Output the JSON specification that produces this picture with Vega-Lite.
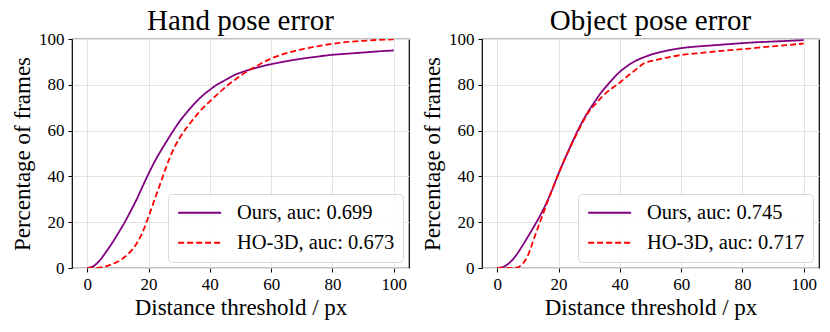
{
  "$schema": "https://vega.github.io/schema/vega-lite/v6.json",
  "background": "white",
  "padding": {"left": 10, "top": 6, "right": 5, "bottom": 5},
  "spacing": 10,
  "config": {
    "font": "Liberation Serif",
    "view": {"stroke": "#000", "strokeWidth": 1.2},
    "title": {"font": "Liberation Serif", "fontSize": 29, "fontWeight": "normal", "color": "#000", "offset": -6, "baseline": "alphabetic"},
    "axis": {
      "labelFont": "Liberation Serif", "labelFontSize": 17, "labelColor": "#000",
      "titleFont": "Liberation Serif", "titleFontSize": 23, "titleFontWeight": "normal", "titleColor": "#000",
      "tickColor": "#000", "tickSize": 4, "domain": false,
      "gridColor": "#e3e3e3", "gridWidth": 1, "labelPadding": 4, "titlePadding": 4
    },
    "legend": {
      "labelFont": "Liberation Serif", "labelFontSize": 20.5, "labelColor": "#000",
      "symbolType": "M-1,0H4", "symbolSize": 296, "symbolStrokeWidth": 1.8,
      "fillColor": "rgba(255,255,255,0.85)", "strokeColor": "#d8d8d8", "cornerRadius": 4,
      "padding": 8.5, "rowPadding": 9, "labelOffset": 40, "offset": 6, "labelLimit": 300
    }
  },
  "hconcat": [
    {
      "title": "Hand pose error",
      "width": 337, "height": 229,
      "data": {"values": [
        {"x":0,"pct":0,"series":"Ours, auc: 0.699"},{"x":2,"pct":0.8,"series":"Ours, auc: 0.699"},{"x":4,"pct":3.2,"series":"Ours, auc: 0.699"},{"x":6,"pct":6.8,"series":"Ours, auc: 0.699"},{"x":8,"pct":10.7,"series":"Ours, auc: 0.699"},{"x":10,"pct":15,"series":"Ours, auc: 0.699"},{"x":12,"pct":19.5,"series":"Ours, auc: 0.699"},{"x":14,"pct":24.5,"series":"Ours, auc: 0.699"},{"x":16,"pct":29.7,"series":"Ours, auc: 0.699"},{"x":18,"pct":35.5,"series":"Ours, auc: 0.699"},{"x":20,"pct":41.2,"series":"Ours, auc: 0.699"},{"x":22,"pct":46.5,"series":"Ours, auc: 0.699"},{"x":24,"pct":51.2,"series":"Ours, auc: 0.699"},{"x":26,"pct":55.6,"series":"Ours, auc: 0.699"},{"x":28,"pct":59.8,"series":"Ours, auc: 0.699"},{"x":30,"pct":63.8,"series":"Ours, auc: 0.699"},{"x":32,"pct":67.2,"series":"Ours, auc: 0.699"},{"x":34,"pct":70.3,"series":"Ours, auc: 0.699"},{"x":36,"pct":73.2,"series":"Ours, auc: 0.699"},{"x":38,"pct":75.7,"series":"Ours, auc: 0.699"},{"x":40,"pct":77.8,"series":"Ours, auc: 0.699"},{"x":42,"pct":79.8,"series":"Ours, auc: 0.699"},{"x":44,"pct":81.3,"series":"Ours, auc: 0.699"},{"x":46,"pct":82.8,"series":"Ours, auc: 0.699"},{"x":48,"pct":84.3,"series":"Ours, auc: 0.699"},{"x":50,"pct":85.3,"series":"Ours, auc: 0.699"},{"x":55,"pct":87.4,"series":"Ours, auc: 0.699"},{"x":60,"pct":89,"series":"Ours, auc: 0.699"},{"x":65,"pct":90.3,"series":"Ours, auc: 0.699"},{"x":70,"pct":91.4,"series":"Ours, auc: 0.699"},{"x":75,"pct":92.3,"series":"Ours, auc: 0.699"},{"x":80,"pct":93.1,"series":"Ours, auc: 0.699"},{"x":85,"pct":93.6,"series":"Ours, auc: 0.699"},{"x":90,"pct":94.1,"series":"Ours, auc: 0.699"},{"x":95,"pct":94.6,"series":"Ours, auc: 0.699"},{"x":100,"pct":95,"series":"Ours, auc: 0.699"},
        {"x":0,"pct":0,"series":"HO-3D, auc: 0.673"},{"x":2,"pct":0.05,"series":"HO-3D, auc: 0.673"},{"x":4,"pct":0.2,"series":"HO-3D, auc: 0.673"},{"x":6,"pct":0.7,"series":"HO-3D, auc: 0.673"},{"x":8,"pct":1.6,"series":"HO-3D, auc: 0.673"},{"x":10,"pct":2.8,"series":"HO-3D, auc: 0.673"},{"x":12,"pct":4.6,"series":"HO-3D, auc: 0.673"},{"x":14,"pct":7,"series":"HO-3D, auc: 0.673"},{"x":16,"pct":10.5,"series":"HO-3D, auc: 0.673"},{"x":18,"pct":15.5,"series":"HO-3D, auc: 0.673"},{"x":20,"pct":22.5,"series":"HO-3D, auc: 0.673"},{"x":22,"pct":30,"series":"HO-3D, auc: 0.673"},{"x":24,"pct":37.5,"series":"HO-3D, auc: 0.673"},{"x":26,"pct":45,"series":"HO-3D, auc: 0.673"},{"x":28,"pct":51.5,"series":"HO-3D, auc: 0.673"},{"x":30,"pct":56.5,"series":"HO-3D, auc: 0.673"},{"x":32,"pct":60.5,"series":"HO-3D, auc: 0.673"},{"x":34,"pct":64,"series":"HO-3D, auc: 0.673"},{"x":36,"pct":67.3,"series":"HO-3D, auc: 0.673"},{"x":38,"pct":70.2,"series":"HO-3D, auc: 0.673"},{"x":40,"pct":72.8,"series":"HO-3D, auc: 0.673"},{"x":42,"pct":75.3,"series":"HO-3D, auc: 0.673"},{"x":44,"pct":77.7,"series":"HO-3D, auc: 0.673"},{"x":46,"pct":80,"series":"HO-3D, auc: 0.673"},{"x":48,"pct":82,"series":"HO-3D, auc: 0.673"},{"x":50,"pct":84,"series":"HO-3D, auc: 0.673"},{"x":55,"pct":88,"series":"HO-3D, auc: 0.673"},{"x":60,"pct":91.5,"series":"HO-3D, auc: 0.673"},{"x":65,"pct":93.8,"series":"HO-3D, auc: 0.673"},{"x":70,"pct":95.5,"series":"HO-3D, auc: 0.673"},{"x":75,"pct":96.8,"series":"HO-3D, auc: 0.673"},{"x":80,"pct":97.9,"series":"HO-3D, auc: 0.673"},{"x":85,"pct":98.7,"series":"HO-3D, auc: 0.673"},{"x":90,"pct":99.2,"series":"HO-3D, auc: 0.673"},{"x":95,"pct":99.6,"series":"HO-3D, auc: 0.673"},{"x":100,"pct":99.8,"series":"HO-3D, auc: 0.673"}
      ]},
      "mark": {"type": "line", "strokeWidth": 1.8, "interpolate": "monotone", "clip": true},
      "encoding": {
        "x": {"field": "x", "type": "quantitative", "title": "Distance threshold / px",
              "scale": {"domain": [-5, 105], "nice": false, "zero": false},
              "axis": {"values": [0, 20, 40, 60, 80, 100]}},
        "y": {"field": "pct", "type": "quantitative", "title": "Percentage of frames",
              "scale": {"domain": [0, 100], "nice": false},
              "axis": {"values": [0, 20, 40, 60, 80, 100]}},
        "color": {"field": "series", "type": "nominal",
                  "scale": {"domain": ["Ours, auc: 0.699", "HO-3D, auc: 0.673"], "range": ["#800080", "#ff0000"]},
                  "legend": {"title": null, "orient": "bottom-right"}},
        "strokeDash": {"field": "series", "type": "nominal",
                  "scale": {"domain": ["Ours, auc: 0.699", "HO-3D, auc: 0.673"], "range": [[1, 0], [6, 3]]},
                  "legend": {"title": null, "orient": "bottom-right"}}
      }
    },
    {
      "title": "Object pose error",
      "width": 337, "height": 229,
      "data": {"values": [
        {"x":0,"pct":0,"series":"Ours, auc: 0.745"},{"x":2,"pct":0.5,"series":"Ours, auc: 0.745"},{"x":4,"pct":2.3,"series":"Ours, auc: 0.745"},{"x":6,"pct":5.3,"series":"Ours, auc: 0.745"},{"x":8,"pct":9.3,"series":"Ours, auc: 0.745"},{"x":10,"pct":13.7,"series":"Ours, auc: 0.745"},{"x":12,"pct":18.2,"series":"Ours, auc: 0.745"},{"x":14,"pct":23,"series":"Ours, auc: 0.745"},{"x":16,"pct":28.3,"series":"Ours, auc: 0.745"},{"x":18,"pct":34.5,"series":"Ours, auc: 0.745"},{"x":20,"pct":41.3,"series":"Ours, auc: 0.745"},{"x":22,"pct":47.5,"series":"Ours, auc: 0.745"},{"x":24,"pct":53.5,"series":"Ours, auc: 0.745"},{"x":26,"pct":59.3,"series":"Ours, auc: 0.745"},{"x":28,"pct":64.5,"series":"Ours, auc: 0.745"},{"x":30,"pct":69,"series":"Ours, auc: 0.745"},{"x":32,"pct":73,"series":"Ours, auc: 0.745"},{"x":34,"pct":76.8,"series":"Ours, auc: 0.745"},{"x":36,"pct":80,"series":"Ours, auc: 0.745"},{"x":38,"pct":83,"series":"Ours, auc: 0.745"},{"x":40,"pct":85.7,"series":"Ours, auc: 0.745"},{"x":42,"pct":87.8,"series":"Ours, auc: 0.745"},{"x":44,"pct":89.6,"series":"Ours, auc: 0.745"},{"x":46,"pct":91,"series":"Ours, auc: 0.745"},{"x":48,"pct":92.1,"series":"Ours, auc: 0.745"},{"x":50,"pct":93.1,"series":"Ours, auc: 0.745"},{"x":55,"pct":94.8,"series":"Ours, auc: 0.745"},{"x":60,"pct":96,"series":"Ours, auc: 0.745"},{"x":65,"pct":96.7,"series":"Ours, auc: 0.745"},{"x":70,"pct":97.2,"series":"Ours, auc: 0.745"},{"x":75,"pct":97.7,"series":"Ours, auc: 0.745"},{"x":80,"pct":98.2,"series":"Ours, auc: 0.745"},{"x":85,"pct":98.6,"series":"Ours, auc: 0.745"},{"x":90,"pct":98.9,"series":"Ours, auc: 0.745"},{"x":95,"pct":99.2,"series":"Ours, auc: 0.745"},{"x":100,"pct":99.5,"series":"Ours, auc: 0.745"},
        {"x":0,"pct":0,"series":"HO-3D, auc: 0.717"},{"x":2,"pct":0,"series":"HO-3D, auc: 0.717"},{"x":4,"pct":0,"series":"HO-3D, auc: 0.717"},{"x":6,"pct":0.1,"series":"HO-3D, auc: 0.717"},{"x":8,"pct":1.5,"series":"HO-3D, auc: 0.717"},{"x":10,"pct":5.5,"series":"HO-3D, auc: 0.717"},{"x":12,"pct":13,"series":"HO-3D, auc: 0.717"},{"x":14,"pct":20.3,"series":"HO-3D, auc: 0.717"},{"x":16,"pct":27.5,"series":"HO-3D, auc: 0.717"},{"x":18,"pct":34.5,"series":"HO-3D, auc: 0.717"},{"x":20,"pct":41.2,"series":"HO-3D, auc: 0.717"},{"x":22,"pct":47.5,"series":"HO-3D, auc: 0.717"},{"x":24,"pct":53.3,"series":"HO-3D, auc: 0.717"},{"x":26,"pct":58.8,"series":"HO-3D, auc: 0.717"},{"x":28,"pct":64,"series":"HO-3D, auc: 0.717"},{"x":30,"pct":68.5,"series":"HO-3D, auc: 0.717"},{"x":32,"pct":71.5,"series":"HO-3D, auc: 0.717"},{"x":34,"pct":74.5,"series":"HO-3D, auc: 0.717"},{"x":36,"pct":77,"series":"HO-3D, auc: 0.717"},{"x":38,"pct":79,"series":"HO-3D, auc: 0.717"},{"x":40,"pct":81,"series":"HO-3D, auc: 0.717"},{"x":42,"pct":83.3,"series":"HO-3D, auc: 0.717"},{"x":44,"pct":85.3,"series":"HO-3D, auc: 0.717"},{"x":46,"pct":87.5,"series":"HO-3D, auc: 0.717"},{"x":48,"pct":89.5,"series":"HO-3D, auc: 0.717"},{"x":50,"pct":90.3,"series":"HO-3D, auc: 0.717"},{"x":55,"pct":91.8,"series":"HO-3D, auc: 0.717"},{"x":60,"pct":93,"series":"HO-3D, auc: 0.717"},{"x":65,"pct":93.7,"series":"HO-3D, auc: 0.717"},{"x":70,"pct":94.4,"series":"HO-3D, auc: 0.717"},{"x":75,"pct":95,"series":"HO-3D, auc: 0.717"},{"x":80,"pct":95.6,"series":"HO-3D, auc: 0.717"},{"x":85,"pct":96.2,"series":"HO-3D, auc: 0.717"},{"x":90,"pct":96.8,"series":"HO-3D, auc: 0.717"},{"x":95,"pct":97.4,"series":"HO-3D, auc: 0.717"},{"x":100,"pct":98,"series":"HO-3D, auc: 0.717"}
      ]},
      "mark": {"type": "line", "strokeWidth": 1.8, "interpolate": "monotone", "clip": true},
      "encoding": {
        "x": {"field": "x", "type": "quantitative", "title": "Distance threshold / px",
              "scale": {"domain": [-5, 105], "nice": false, "zero": false},
              "axis": {"values": [0, 20, 40, 60, 80, 100]}},
        "y": {"field": "pct", "type": "quantitative", "title": "Percentage of frames",
              "scale": {"domain": [0, 100], "nice": false},
              "axis": {"values": [0, 20, 40, 60, 80, 100]}},
        "color": {"field": "series", "type": "nominal",
                  "scale": {"domain": ["Ours, auc: 0.745", "HO-3D, auc: 0.717"], "range": ["#800080", "#ff0000"]},
                  "legend": {"title": null, "orient": "bottom-right"}},
        "strokeDash": {"field": "series", "type": "nominal",
                  "scale": {"domain": ["Ours, auc: 0.745", "HO-3D, auc: 0.717"], "range": [[1, 0], [6, 3]]},
                  "legend": {"title": null, "orient": "bottom-right"}}
      }
    }
  ],
  "resolve": {"scale": {"color": "independent", "strokeDash": "independent", "x": "independent", "y": "independent"}, "legend": {"color": "independent", "strokeDash": "independent"}}
}
